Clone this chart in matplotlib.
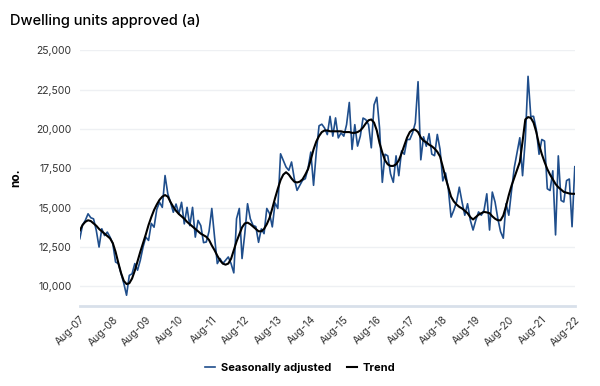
import matplotlib
matplotlib.use('Agg')
import numpy as np
import matplotlib.pyplot as plt

# monthly values, Aug-07 .. Aug-22 (12 per row, each row starts in August)
seas_adj = [
    13030, 13900, 14190, 14610, 14360, 14290, 13550, 12500, 13660, 13230, 13450, 13130,
    12710, 11550, 11450, 10820, 10190, 9440, 10700, 10800, 11450, 11030, 11660, 12500,
    13130, 12920, 14000, 13760, 14900, 15340, 15020, 17040, 15880, 15340, 14710, 15230,
    14600, 15340, 13970, 15020, 13860, 15020, 13130, 14190, 13860, 12780, 12820, 13500,
    14950, 13140, 11450, 11770, 11450, 11660, 11870, 11450, 10860, 14300, 14950, 11770,
    13350, 15250, 14300, 13870, 13800, 12800, 13650, 13350, 14950, 14630, 13780, 15300,
    14950, 18420, 18000, 17580, 17370, 17900, 16840, 16100, 16420, 16740, 16840, 17500,
    18530, 16420, 18530, 20200, 20300, 20060, 19640, 20800, 19540, 20700, 19430, 19750,
    19540, 20270, 21680, 18700, 20270, 18910, 19540, 20690, 20590, 20270, 18800, 21530,
    22010, 20060, 16610, 18390, 18290, 17140, 16610, 18290, 17030, 18600, 18390, 19330,
    19330, 19750, 20380, 23000, 18040, 19500, 18900, 19700, 18400, 18300, 19650, 18700,
    16700, 17200, 16200, 14400, 14840, 15360, 16300, 15360, 14520, 15250, 14210, 13580,
    14210, 14730, 14520, 14840, 15880, 13580, 15990, 15360, 14320, 13480, 13060, 15250,
    14520, 16090, 17550, 18500, 19440, 17030, 19330, 23340, 20790, 20800, 19960, 18390,
    19330, 19230, 16200, 16090, 17340, 13270, 18290, 15460, 15360, 16720, 16820, 13790,
    17600,
]

trend = [
    13550, 13900, 14100, 14200, 14150, 14000, 13850, 13650, 13500, 13350, 13200, 13050,
    12750, 12200, 11500, 10850, 10350, 10150, 10200, 10500, 11000, 11600, 12200, 12750,
    13300, 13900, 14400, 14850, 15200, 15500, 15700, 15800, 15700, 15350, 15050, 14800,
    14600, 14450, 14300, 14100, 13950, 13800, 13650, 13500, 13350, 13250, 13150, 12950,
    12600, 12300, 11950, 11650, 11450, 11380, 11450, 11750, 12300, 12850, 13300, 13750,
    14000, 14050, 13950, 13800, 13650, 13500, 13500, 13650, 13950, 14350, 14950, 15600,
    16200, 16750, 17100, 17250, 17100, 16850, 16650, 16600, 16650, 16800, 17100, 17450,
    18050, 18700, 19200, 19550, 19800, 19900, 19900, 19850, 19850, 19850, 19850, 19850,
    19800, 19800, 19800, 19750, 19750, 19800, 19900, 20100, 20350, 20550, 20600, 20400,
    19900, 19100, 18500, 18000, 17750, 17650, 17650, 17750, 18000, 18450, 18950, 19450,
    19800, 19950, 19950, 19800, 19450, 19250, 19150, 19000, 18900, 18750, 18550, 18250,
    17600, 16900, 16300, 15700, 15400, 15200, 15050, 14950, 14800, 14650, 14400, 14250,
    14400, 14550, 14650, 14730, 14700, 14650, 14450, 14300, 14200, 14200, 14500, 15100,
    15800, 16400, 16900, 17400, 17900, 19200, 20600, 20750, 20700, 20400, 19800, 19000,
    18400, 17900, 17450, 17100, 16800, 16500, 16300, 16150, 16000, 15950, 15900, 15880,
    15880,
]

tick_labels = ['Aug-07', 'Aug-08', 'Aug-09', 'Aug-10', 'Aug-11', 'Aug-12', 'Aug-13', 'Aug-14',
               'Aug-15', 'Aug-16', 'Aug-17', 'Aug-18', 'Aug-19', 'Aug-20', 'Aug-21', 'Aug-22']
y_ticks = [10000, 12500, 15000, 17500, 20000, 22500, 25000]

plt.rcParams['font.family'] = ['Inter', 'DejaVu Sans']

fig = plt.figure(figsize=(6, 3.86), dpi=100)
ax = fig.add_axes([0.133, 0.207, 0.825, 0.663])

months = np.arange(len(seas_adj))
ax.plot(months, seas_adj, color='#1f4e8c', lw=1.2, label='Seasonally adjusted')
ax.plot(months, trend, color='black', lw=1.5, label='Trend')

ax.set_xlim(0, len(seas_adj) - 1)
ax.set_ylim(8750, 25000)
ax.set_yticks(y_ticks)
ax.set_yticklabels(['{:,}'.format(v) for v in y_ticks], fontsize=7.5, color='#333333')
ax.set_xticks(np.arange(0, len(seas_adj), 12))
ax.set_xticklabels(tick_labels, rotation=45, ha='right', rotation_mode='anchor',
                   fontsize=7.5, color='#333333')
ax.tick_params(length=0, pad=6)

ax.grid(axis='y', color='#eef0f3', lw=1)
ax.set_axisbelow(True)
for side in ['top', 'right', 'left']:
    ax.spines[side].set_visible(False)
ax.spines['bottom'].set_color('#d8e0ea')
ax.spines['bottom'].set_linewidth(2)

ax.set_ylabel('no.', fontsize=8.5, fontweight='bold', labelpad=10)
fig.text(0.017, 0.945, 'Dwelling units approved (a)', fontsize=10.5, fontweight='medium',
         color='black', va='center')

leg = fig.legend(loc='center', bbox_to_anchor=(0.5, 0.047), ncol=2, frameon=False,
                 handlelength=0.9, columnspacing=1.4, handletextpad=0.5,
                 prop={'size': 8, 'weight': 'bold'})

fig.savefig('out.png', dpi=100)
plt.close(fig)
